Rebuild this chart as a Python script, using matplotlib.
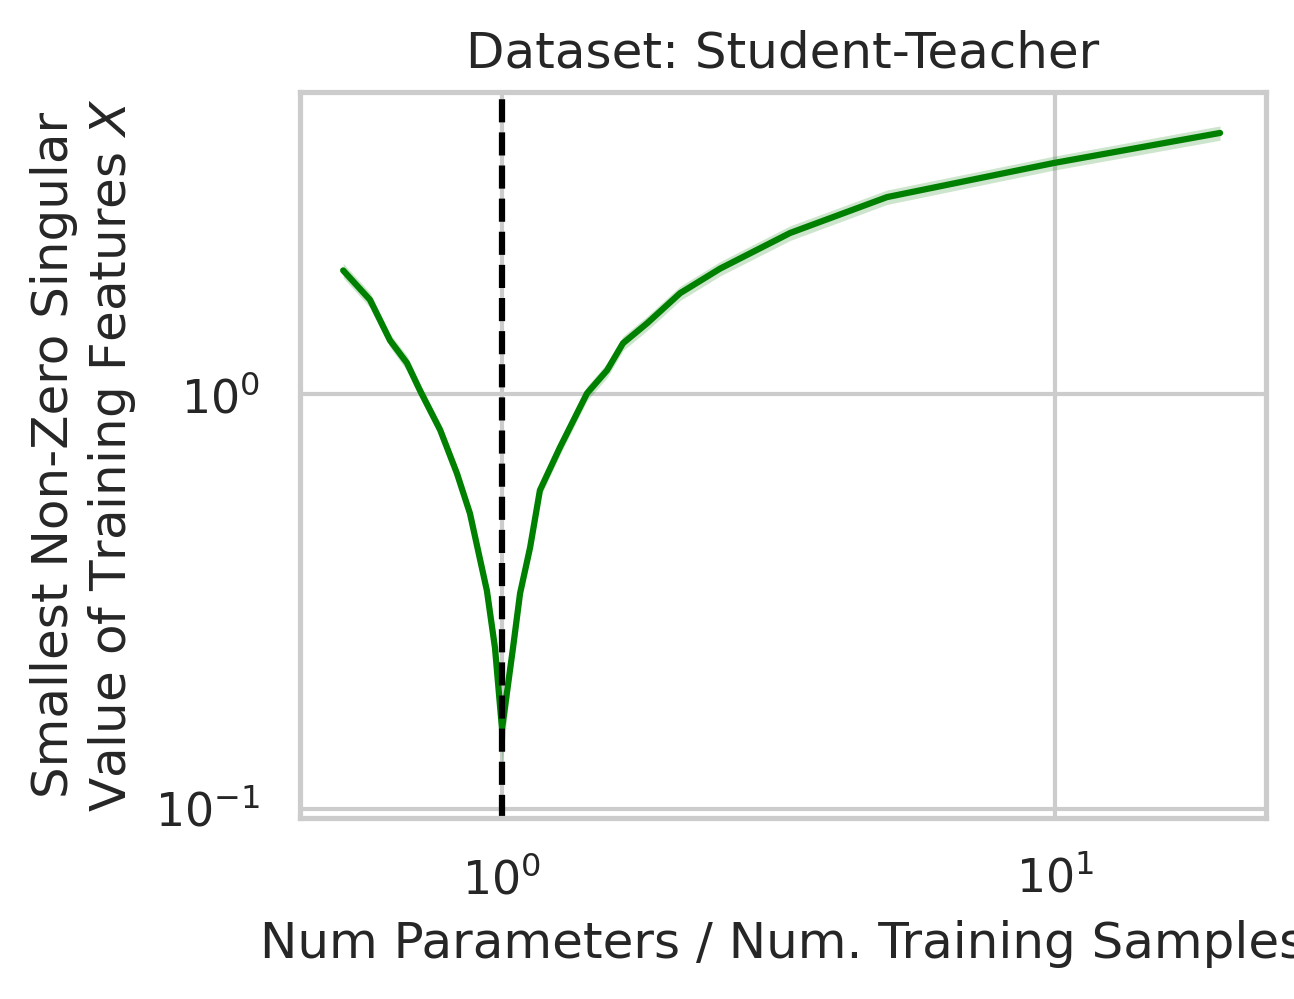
import matplotlib
matplotlib.use("Agg")
import matplotlib.pyplot as plt
import seaborn as sns

# ---- data ----
ratio = [0.516, 0.577, 0.627, 0.673, 0.711, 0.773, 0.829, 0.875, 0.939, 0.971,
         1.0, 1.047, 1.078, 1.124, 1.171, 1.273, 1.425, 1.549, 1.655, 1.83,
         2.10, 2.48, 3.32, 4.97, 9.92, 19.9]
sigma_min = [1.99, 1.69, 1.35, 1.19, 1.02, 0.82, 0.644, 0.516, 0.336, 0.245,
             0.156, 0.245, 0.331, 0.427, 0.587, 0.745, 1.006, 1.143, 1.328, 1.484,
             1.754, 2.01, 2.45, 2.99, 3.61, 4.27]
sigma_lo = [1.91, 1.62, 1.30, 1.14, 0.98, 0.79, 0.618, 0.495, 0.321, 0.232,
            0.128, 0.232, 0.316, 0.410, 0.563, 0.715, 0.966, 1.097, 1.275, 1.425,
            1.684, 1.93, 2.35, 2.87, 3.47, 4.10]
sigma_hi = [2.07, 1.76, 1.40, 1.24, 1.06, 0.85, 0.670, 0.537, 0.351, 0.258,
            0.178, 0.258, 0.346, 0.444, 0.611, 0.775, 1.046, 1.189, 1.381, 1.543,
            1.824, 2.09, 2.55, 3.11, 3.75, 4.44]
threshold = 1.0

title = "Dataset: Student-Teacher"
xlabel = "Num Parameters / Num. Training Samples"
ylabel = "Smallest Non-Zero Singular\nValue of Training Features $X$"

sns.set_theme(style="whitegrid")
plt.rcParams['font.family'] = ['DejaVu Sans']

fig = plt.figure(figsize=(1294 / 300, 999 / 300), dpi=300)
ax = fig.add_axes([0.2318, 0.1812, 0.9784 - 0.2318, 0.9079 - 0.1812])

ax.fill_between(ratio, sigma_lo, sigma_hi, color="green", alpha=0.2, linewidth=0)
ax.plot(ratio, sigma_min, color="green", lw=1.5)
ax.axvline(threshold, color="black", ls="--", lw=1.5)

ax.set_xscale("log")
ax.set_yscale("log")
ax.set_xlim(0.431, 24.1)
ax.set_ylim(0.0951, 5.36)

ax.set_title(title)
ax.set_xlabel(xlabel)
ax.set_ylabel(ylabel)

fig.savefig("out.png", dpi=300)
